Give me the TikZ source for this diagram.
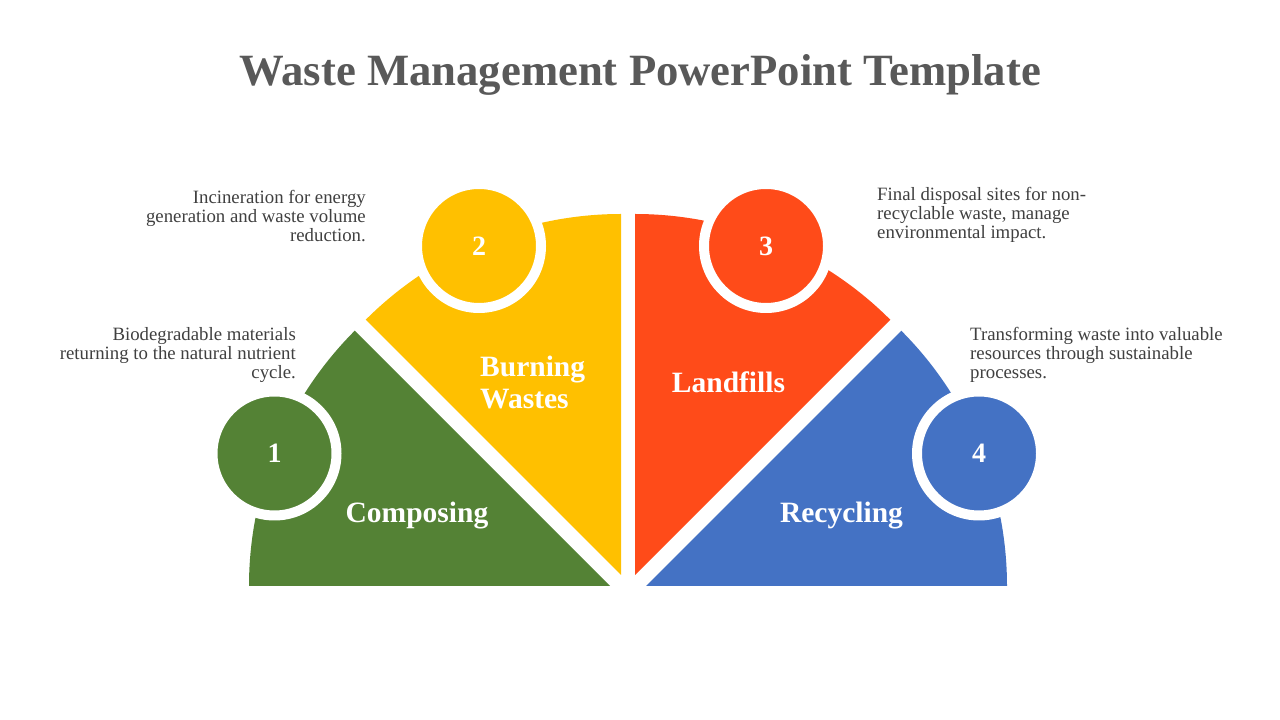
\documentclass[tikz,border=0pt]{standalone}
\usepackage{fontspec}
\setmainfont{Liberation Serif}
\definecolor{cgreen}{HTML}{548235}
\definecolor{cyellow}{HTML}{FFC000}
\definecolor{corange}{HTML}{FF4B19}
\definecolor{cblue}{HTML}{4472C4}
\definecolor{ctitle}{HTML}{595959}
\definecolor{cdesc}{HTML}{404040}
\tikzset{
  sector/.style={draw=none},
  numcirc/.style={circle, draw=white, line width=10pt, minimum size=124pt, inner sep=0pt, text=white, font=\bfseries\fontsize{28}{28}\selectfont},
  desc/.style={text=cdesc, inner sep=0pt, font=\fontsize{18.8}{19.3}\selectfont},
  lbl/.style={text=white, inner sep=0pt, font=\bfseries\fontsize{29.5}{32}\selectfont},
}
\begin{document}
\begin{tikzpicture}[x=1pt,y=1pt]
\useasboundingbox (0,0) rectangle (1280,720);
\fill[white] (0,0) rectangle (1280,720);
% title
\node[anchor=base, text=ctitle, inner sep=0pt, font=\bfseries\fontsize{44.7}{48}\selectfont] (title) at (640,634) {Waste Management PowerPoint Template};
% sectors
\fill[cgreen] (610,134) -- ++(180:361) arc (180:135:361) -- cycle;
\fill[cyellow] (621,145) -- ++(135:361) arc (135:90:361) -- cycle;
\fill[corange] (635,145) -- ++(90:361) arc (90:45:361) -- cycle;
\fill[cblue] (646,134) -- ++(45:361) arc (45:0:361) -- cycle;
% number circles
\node[numcirc, fill=cgreen] (n1) at (274.5,266.5) {1};
\node[numcirc, fill=cyellow] (n2) at (479,474) {2};
\node[numcirc, fill=corange] (n3) at (766,474) {3};
\node[numcirc, fill=cblue] (n4) at (979,266.5) {4};
% sector labels
\node[lbl, anchor=base] (l1) at (417,197) {Composing};
\node[lbl, anchor=base west, align=left] (l2) at (480,311) {Burning\\Wastes};
\node[lbl, anchor=base] (l3) at (728.5,327) {Landfills};
\node[lbl, anchor=base] (l4) at (841.5,197) {Recycling};
% descriptions
\node[desc, anchor=east, align=right] (d1) at (296,365) {Biodegradable materials\\returning to the natural nutrient\\cycle.};
\node[desc, anchor=east, align=right] (d2) at (366,504) {Incineration for energy\\generation and waste volume\\reduction.};
\node[desc, anchor=west, align=left] (d3) at (877,505) {Final disposal sites for non-\\recyclable waste, manage\\environmental impact.};
\node[desc, anchor=west, align=left] (d4) at (970,365) {Transforming waste into valuable\\resources through sustainable\\processes.};
\end{tikzpicture}
\end{document}
